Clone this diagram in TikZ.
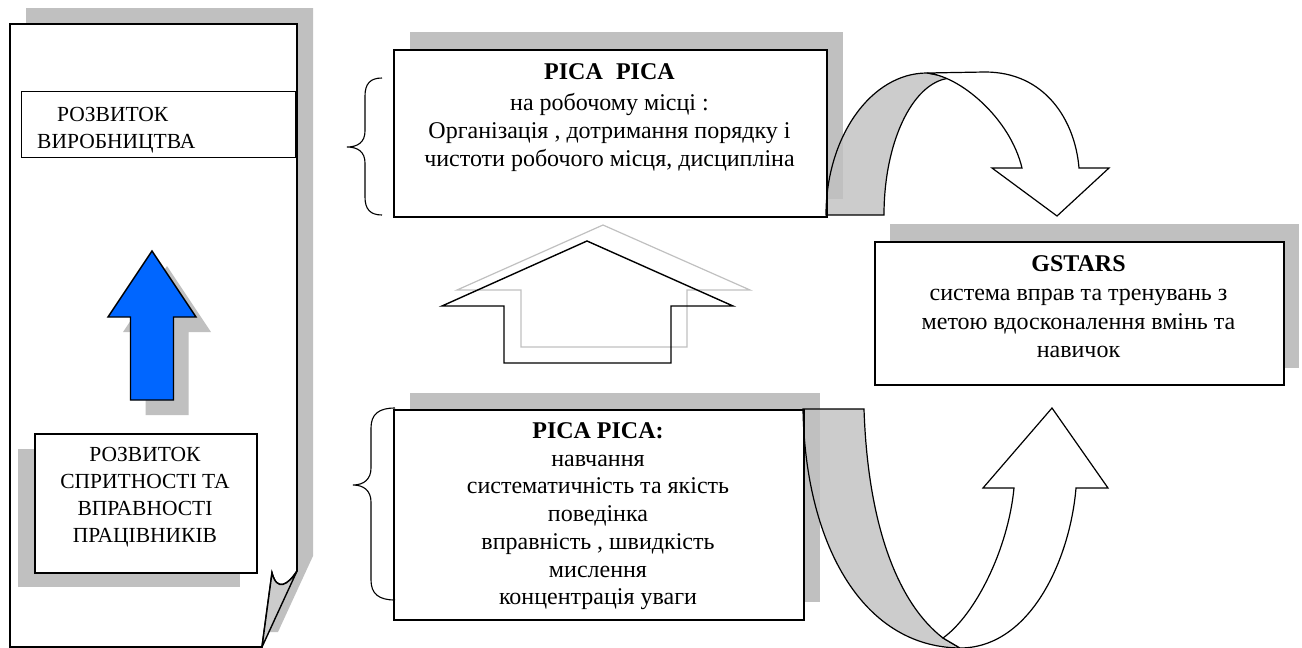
\documentclass[tikz,border=0pt]{standalone}
\usepackage{fontspec}
\setmainfont{Liberation Serif}
\definecolor{shd}{RGB}{192,192,192}
\definecolor{band}{RGB}{204,204,204}
\definecolor{ablue}{RGB}{0,102,255}
\begin{document}
\begin{tikzpicture}[x=1pt,y=-1pt,
  box/.style={draw=black, line width=1.6pt, fill=white, inner sep=0pt, anchor=north west},
  shadowfill/.style={fill=shd, draw=none},
  bandfill/.style={fill=band, draw=none},
  outl/.style={draw=black, line width=1.2pt, line join=miter},
  lbl/.style={inner sep=0pt, align=center, anchor=north, font=\fontsize{24}{28.8}\selectfont},
  lblsmall/.style={inner sep=0pt, font=\fontsize{21.5}{26.7}\selectfont},
  brace/.style={draw=black, line width=1.1pt}
]
\useasboundingbox (0,0) rectangle (1302,648);

% ---- gray band fills of curved arrows (under shadows)
\fill[bandfill] (826,215) .. controls (826,137) and (871,73) .. (927,73) -- (953,78) .. controls (915,78) and (884,139) .. (884,215) -- cycle;
\fill[bandfill] (803,409) -- (864,409) .. controls (868,530) and (900,605) .. (943,638) -- (960,648) .. controls (860,647) and (805,540) .. (803,409) -- cycle;

% ---- shadows
\fill[shadowfill] (26,8) -- (313,8) -- (313,556) -- (278,632) -- (26,632) -- cycle;
\fill[shadowfill] (410,32) rectangle (843,199);
\fill[shadowfill] (410,393) rectangle (820,602);
\fill[shadowfill] (890,224) rectangle (1299,368);

% ---- left panel with folded corner
\draw[line width=1.6pt, fill=white, line join=miter] (10,24) -- (297,24) -- (297,571) .. controls (288,585) and (277,592) .. (272,573) -- (262,647) -- (10,647) -- cycle;
\filldraw[fill=band, line width=1.4pt, line join=miter] (272,573) .. controls (277,592) and (288,585) .. (297,571) -- (262,647) -- cycle;

% ---- inner boxes of left panel
\node[box, line width=1.4pt, minimum width=274pt, minimum height=66pt] (devbox) at (21,91) {};
\node[lblsmall, align=left, anchor=north west] (devtxt) at (37,107.5) {\hspace*{20pt}РОЗВИТОК\\ВИРОБНИЦТВА};

\fill[shadowfill] (18,449) rectangle (240,587);
\node[box, minimum width=222pt, minimum height=139pt] (skillbox) at (34,433) {};
\node[lblsmall, align=center, anchor=north] (skilltxt) at (145,447.5) {РОЗВИТОК\\СПРИТНОСТІ ТА\\ВПРАВНОСТІ\\ПРАЦІВНИКІВ};

% ---- blue arrow
\fill[shadowfill] (167,266) -- (211,332) -- (188.5,332) -- (188.5,415) -- (145.5,415) -- (145.5,332) -- (123,332) -- cycle;
\filldraw[fill=ablue, line width=1.4pt, line join=miter] (152,251) -- (196,317) -- (173.5,317) -- (173.5,400) -- (130.5,400) -- (130.5,317) -- (108,317) -- cycle;

% ---- main boxes
\node[box, minimum width=433pt, minimum height=167pt] (pica1) at (393,49) {};
\node[lbl, font=\fontsize{24}{28}\selectfont] (pica1txt) at (609.5,63.5) {\textbf{PICA\hspace{0.55em}PICA}\\[3pt]на робочому місці :\\Організація , дотримання порядку і\\чистоти робочого місця, дисципліна};

\node[box, minimum width=410pt, minimum height=210pt] (pica2) at (393,409) {};
\node[lbl, font=\fontsize{24}{27.7}\selectfont] (pica2txt) at (598,422.5) {\textbf{PICA PICA:}\\навчання\\систематичність та якість\\поведінка\\вправність , швидкість\\мислення\\концентрація уваги};

\node[box, minimum width=409pt, minimum height=143pt] (gstars) at (874,241) {};
\node[lbl] (gstarstxt) at (1078.5,255.5) {\textbf{GSTARS}\\система вправ та тренувань з\\метою вдосконалення вмінь та\\навичок};

% ---- curved arrow top right
\draw[outl] (826,215) .. controls (826,137) and (871,73) .. (927,73) -- (953,78) .. controls (915,78) and (884,139) .. (884,215) -- cycle;
\filldraw[outl, fill=white] (927,73) -- (985,72) .. controls (1045,72) and (1075,120) .. (1079,168) -- (1109,168) -- (1057,216) -- (992,168) -- (1022,168) .. controls (1010,118) and (960,76) .. (927,73) -- cycle;

% ---- curved arrow bottom right
\draw[outl] (803,409) -- (864,409) .. controls (868,530) and (900,605) .. (943,638) -- (960,648) .. controls (860,647) and (805,540) .. (803,409) -- cycle;
\filldraw[outl, fill=white] (943,638) .. controls (975,615) and (1008,550) .. (1014,488) -- (983,488) -- (1052,408) -- (1108,488) -- (1076,488) .. controls (1070,560) and (1030,648) .. (960,648) -- cycle;

% ---- middle double arrow
\draw[draw=shd, line width=1.2pt, line join=miter] (603,225) -- (750,290) -- (687,290) -- (687,347) -- (521,347) -- (521,290) -- (457,290) -- cycle;
\draw[draw=black, line width=1.4pt, line join=miter] (587,241) -- (733,306) -- (671,306) -- (671,363) -- (504,363) -- (504,306) -- (442,306) -- cycle;

% ---- braces
\draw[brace] (382,78) .. controls (370,78) and (365,84) .. (365,96) -- (365,131) .. controls (365,142) and (358,147) .. (347,147) .. controls (358,147) and (365,152) .. (365,163) -- (365,197) .. controls (365,209) and (370,215) .. (382,215);
\draw[brace] (395,408) .. controls (379,408) and (371,414) .. (371,428) -- (371,468) .. controls (371,479) and (364,485) .. (353,485) .. controls (364,485) and (371,491) .. (371,502) -- (371,580) .. controls (371,594) and (379,600) .. (395,600);
\end{tikzpicture}
\end{document}
